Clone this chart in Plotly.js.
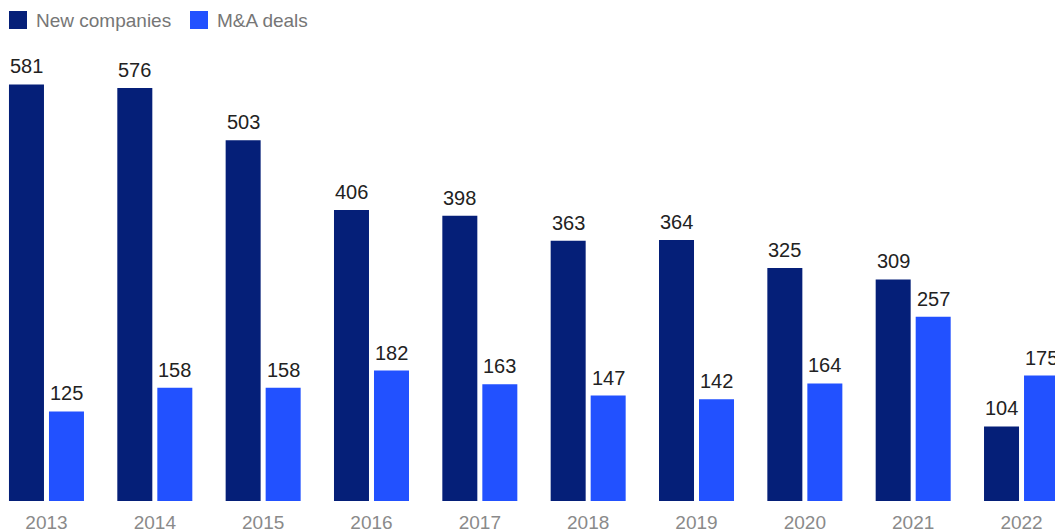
<!DOCTYPE html>
<html><head><meta charset="utf-8">
<script src="https://cdn.plot.ly/plotly-3.0.1.min.js"></script>
<style>html,body{margin:0;padding:0;overflow:hidden;background:#fff}</style>
</head><body><div id="chart" style="width:1055px;height:529px"></div>
<script>
const years = ["2013","2014","2015","2016","2017","2018","2019","2020","2021","2022"];
const newCompanies = [581,576,503,406,398,363,364,325,309,104];
const maDeals = [125,158,158,182,163,147,142,164,257,175];
const seriesNames = ["New companies","M&A deals"];
const seriesColors = ["#051F78","#2251FF"];

const FONT = "Liberation Sans, Arial, sans-serif";
const traces = [
 {type:"bar", name:seriesNames[0], x:years, y:newCompanies, marker:{color:seriesColors[0]}},
 {type:"bar", name:seriesNames[1], x:years, y:maDeals, marker:{color:seriesColors[1]}}
];

const W = 1055, plotTop = 40, plotBottom = 501, plotH = plotBottom - plotTop;
const px = v => v / W;
const py = v => (plotBottom - v) / plotH;
const shapes = [], annotations = [];
// custom legend (large square swatches)
const legendX = [9, 190];
seriesNames.forEach((n, i) => {
  shapes.push({type:"rect", xref:"paper", yref:"paper", x0:px(legendX[i]), x1:px(legendX[i]+18),
    y0:py(29), y1:py(11), fillcolor:seriesColors[i], line:{width:0}});
  annotations.push({xref:"paper", yref:"paper", x:px(legendX[i]+25), y:py(20), xanchor:"left", yanchor:"middle",
    text:n, showarrow:false, font:{family:FONT, size:19, color:"#767676"}});
});
// value labels above bars (x = category index on the category axis)
const labelFont = {family:FONT, size:20, color:"#222"};
[newCompanies, maDeals].forEach((vals, s) => {
  vals.forEach((v, i) => {
    annotations.push({xref:"x", yref:"y", x:i, y:v, xshift: s === 0 ? -20 : 20, yshift:5,
      xanchor:"center", yanchor:"bottom", text:String(v), showarrow:false, font:labelFont});
  });
});

const layout = {
 width:W, height:529,
 margin:{l:0, r:0, t:plotTop, b:529-plotBottom},
 paper_bgcolor:"#fff", plot_bgcolor:"#fff",
 barmode:"group", bargap:0.2615, bargroupgap:0.125,
 showlegend:false,
 shapes, annotations,
 xaxis:{type:"category", range:[-0.429, 9.309], showgrid:false, zeroline:false, showline:false,
   ticks:"", ticklabelstandoff:8, tickfont:{family:FONT, size:19, color:"#8a8a8a"}, fixedrange:true},
 yaxis:{range:[0,643], showgrid:false, zeroline:false, showline:false, showticklabels:false, fixedrange:true},
 font:{family:FONT}
};
Plotly.newPlot("chart", traces, layout, {displayModeBar:false, staticPlot:true});
</script></body></html>
